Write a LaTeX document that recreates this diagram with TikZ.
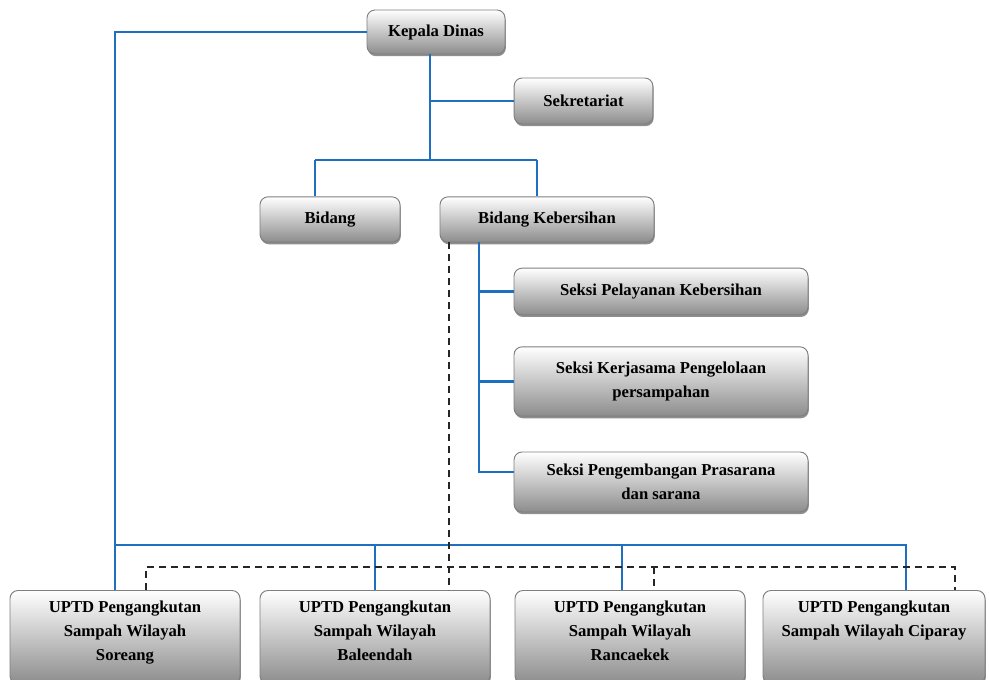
\documentclass[tikz,border=0pt]{standalone}
\usepackage{fontspec}
\setmainfont{Liberation Serif}
\usetikzlibrary{shadows}
\definecolor{linkblue}{HTML}{1F6FC0}
\definecolor{boxedge}{HTML}{7F7F7F}
\begin{document}
\begin{tikzpicture}[x=0.75pt,y=-0.75pt,
  orgbox/.style={draw=boxedge, line width=0.7pt, rounded corners=6pt,
    top color=white, bottom color=black!45, inner sep=0pt, align=center,
    drop shadow={shadow xshift=0.6pt, shadow yshift=-1.6pt, fill=black!55, opacity=0.8},
    font=\fontsize{12.5}{18}\selectfont\bfseries},
  upbox/.style={orgbox, anchor=north, minimum width=172.5pt, minimum height=70pt},
  bl/.style={draw=linkblue, line width=2.1pt},
  dl/.style={draw=black!85, line width=0.8pt, dash pattern=on 5.5pt off 3.5pt}]
\useasboundingbox (0,0) rectangle (989,679);

% top level and staff
\node[orgbox, minimum width=103.5pt, minimum height=33pt] (kd) at (436,32) {Kepala Dinas};
\node[orgbox, minimum width=104pt, minimum height=34.5pt] (sek) at (583.5,101) {Sekretariat};

% departments
\node[orgbox, minimum width=105pt, minimum height=34pt] (bid) at (330,219.5) {Bidang};
\node[orgbox, minimum width=160.5pt, minimum height=34pt] (bk) at (547,219.5) {Bidang Kebersihan};

% sections
\node[orgbox, minimum width=220.5pt, minimum height=35pt] (s1) at (661,291.5) {Seksi Pelayanan Kebersihan};
\node[orgbox, minimum width=220.5pt, minimum height=52pt] (s2) at (661,381.5) {Seksi Kerjasama Pengelolaan\\persampahan};
\node[orgbox, minimum width=220.5pt, minimum height=45pt] (s3) at (661,482) {Seksi Pengembangan Prasarana\\dan sarana};

% technical units
\node[upbox] (u1) at (125,590) {\parbox[c][70pt][t]{170pt}{\centering\vspace*{8pt}UPTD Pengangkutan\\Sampah Wilayah\\Soreang}};
\node[upbox] (u2) at (375,590) {\parbox[c][70pt][t]{170pt}{\centering\vspace*{8pt}UPTD Pengangkutan\\Sampah Wilayah\\Baleendah}};
\node[upbox] (u3) at (630,590) {\parbox[c][70pt][t]{170pt}{\centering\vspace*{8pt}UPTD Pengangkutan\\Sampah Wilayah\\Rancaekek}};
\node[upbox, minimum width=166.5pt] (u4) at (874,590) {\parbox[c][70pt][t]{164pt}{\centering\vspace*{8pt}UPTD Pengangkutan\\Sampah Wilayah Ciparay}};

% routing points
\coordinate (kdL) at (115,32);
\coordinate (busL) at (115,545);
\coordinate (busR) at (906,545);
\coordinate (bus3) at (622,545);
\coordinate (kdD) at (430,160);
\coordinate (bidL) at (315,160);
\coordinate (bidR) at (537,160);
\coordinate (sx) at (479,242);
\coordinate (sxB) at (479,472);
\coordinate (s3in) at (514,472);
\coordinate (dashL) at (146,567);
\coordinate (dashR) at (955,567);
\coordinate (dashM) at (654,567);
\coordinate (dashK) at (449,242);

% line of command
\draw[bl] (kd.west) -- (kdL) -- (u1.north -| kdL);
\draw[bl] (busL) -- (busR) -- (u4.north -| busR);
\draw[bl] (u2.north) -- (u2.north |- busL);
\draw[bl] (bus3) -- (u3.north -| bus3);
\draw[bl] (kd.south -| kdD) -- (kdD);
\draw[bl] (sek.west) -- (sek.west -| kdD);
\draw[bl] (bidL) -- (bidR);
\draw[bl] (bidL) -- (bid.north -| bidL);
\draw[bl] (bidR) -- (bk.north -| bidR);
\draw[bl] (sx) -- (sxB) -- (s3in);
\draw[bl] (s1.west) -- (s1.west -| sx);
\draw[bl] (s2.west) -- (s2.west -| sx);

% line of coordination
\draw[dl] (dashK) -- (u2.north -| dashK);
\draw[dl] (u1.north -| dashL) -- (dashL) -- (dashR) -- (u4.north -| dashR);
\draw[dl] (dashM) -- (u3.north -| dashM);
\end{tikzpicture}
\end{document}
